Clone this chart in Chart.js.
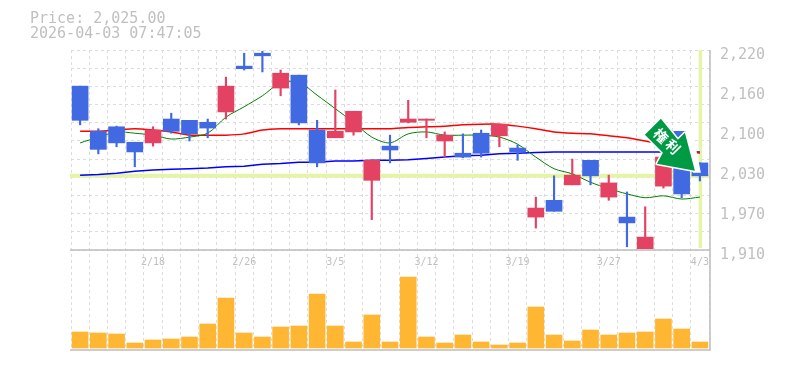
<!DOCTYPE html>
<html><head><meta charset="utf-8">
<style>html,body{margin:0;padding:0;background:#fff;overflow:hidden}#w{position:relative;width:785px;height:370px}
canvas{display:block}.t{position:absolute;left:30px;font:15px "DejaVu Sans Mono",monospace;color:#c0c0c0;line-height:15px;white-space:pre}</style>
<script src="https://cdn.jsdelivr.net/npm/chart.js@4/dist/chart.umd.min.js"></script>
</head><body><div id="w">
<div class="t" style="top:11px">Price: 2,025.00</div>
<div class="t" style="top:26px">2026-04-03 07:47:05</div>
<canvas id="c" width="785" height="370"></canvas></div>
<script>
const dates=['2/12','2/13','2/16','2/17','2/18','2/19','2/20','2/24','2/25','2/26','2/27','3/2','3/3','3/4','3/5','3/6','3/9','3/10','3/11','3/12','3/13','3/16','3/17','3/18','3/19','3/23','3/24','3/25','3/26','3/27','3/30','3/31','4/1','4/2','4/3'];
const opens=[2164,2094,2101,2077,2076,2113,2111,2108,2124,2195,2215,2161,2181,2096,2084,2093,2018,2071,2108,2111,2079,2060,2091,2087,2068,1961,1987,2011,2049,1992,1961,1912,2009,2094,2045];
const closes=[2111,2066,2076,2062,2096,2094,2090,2099,2164,2191,2211,2184,2107,2045,2094,2125,2049,2065,2113,2113,2088,2054,2060,2105,2062,1975,1970,2026,2025,2014,1952,1930,2054,1997,2025];
const highs=[2164,2098,2102,2077,2101,2122,2111,2113,2178,2215,2218,2189,2181,2111,2158,2125,2049,2088,2142,2113,2093,2090,2096,2105,2073,1992,2025,2051,2049,2026,2000,1977,2054,2094,2045];
const lows=[2104,2059,2070,2039,2071,2091,2079,2084,2113,2189,2186,2149,2104,2039,2084,2088,1957,2045,2107,2084,2054,2053,2054,2070,2049,1944,1970,2011,2011,1987,1915,1912,2006,1991,2017];
const volumes=[16,15,14,5,8,9,11,24,50,15,11,21,22,54,22,6,33,6,71,11,5,13,6,3,5,41,13,7,18,13,15,16,29,19,6];
const maShort=[2076,2085,2093,2091,2088,2082,2085,2091,2116,2132,2149,2169,2170,2150,2129,2108,2085,2076,2090,2093,2088,2088,2088,2085,2074,2054,2036,2028,2015,2005,1997,1991,1994,1989,1992];
const maMid=[2094,2094,2096,2098,2096,2093,2088,2088,2088,2090,2096,2098,2098,2098,2098,2098,2098,2098,2100,2101,2102,2104,2105,2105,2102,2098,2093,2091,2090,2087,2084,2079,2073,2066,2060];
const maLong=[2026,2027,2029,2032,2034,2035,2036,2037,2039,2040,2043,2044,2046,2046,2048,2048,2049,2049,2050,2052,2054,2056,2057,2059,2060,2061,2062,2062,2062,2062,2062,2062,2062,2062,2062];
const priceLabelTicks=[1910,1972,2034,2096,2158,2220];
const priceMin=1910,priceMax=2220,gridCount=11,lastPrice=2025;
const markText=['権','利'];

const BLUE='#4169e1',RED='#e34262',YEL='#e4f5a6',FRAME='#bdbdbd',GRID='#dcdcdc',TXT='#c0c0c0';
const candleColors=opens.map((o,i)=>closes[i]<o?BLUE:RED);
const overlay={id:'overlay',
 beforeDatasetsDraw(ch){const c=ch.ctx,a=ch.chartArea,s=ch.scales.price,x=ch.scales.x;
  const py=s.getPixelForValue(lastPrice),px=x.getPixelForValue(34);
  c.save();c.strokeStyle=YEL;c.lineWidth=4;
  c.beginPath();c.moveTo(a.left-1,py);c.lineTo(a.right+1,py);c.stroke();
  c.lineWidth=3.5;c.beginPath();c.moveTo(px+.5,a.top);c.lineTo(px+.5,s.bottom-2);c.stroke();c.restore();},
 afterDatasetsDraw(ch){const c=ch.ctx,a=ch.chartArea,s=ch.scales.price,x=ch.scales.x;
  c.save();c.strokeStyle=FRAME;c.lineWidth=1.5;
  c.beginPath();c.moveTo(a.left-1,s.bottom);c.lineTo(a.right+1,s.bottom);
  c.moveTo(a.left-1,a.bottom);c.lineTo(a.right+1,a.bottom);c.lineTo(a.right+1,a.top);c.stroke();
  const tx=x.getPixelForValue(34)-5,ty=s.getPixelForValue(lastPrice)-5;
  const poly=(pts)=>{c.beginPath();pts.forEach((p,i)=>i?c.lineTo(tx+p[0],ty+p[1]):c.moveTo(tx+p[0],ty+p[1]));c.closePath();};
  const shape=[[0,0],[-38,-7],[-32,-18],[-50,-36],[-34,-52],[-17,-31],[-10,-38]];
  poly([[-10,-43],[-3,-43],[6,2],[-2,2]]);c.fillStyle='#fff';c.fill();
  poly(shape);c.strokeStyle='#fff';c.lineWidth=3;c.lineJoin='round';c.stroke();
  c.fillStyle='#009944';c.fill();
  c.fillStyle='#fff';c.font='bold 14px "Noto Sans CJK JP"';c.textAlign='center';c.textBaseline='middle';
  [[-34,-35],[-22,-24]].forEach((p,i)=>{c.save();c.translate(tx+p[0],ty+p[1]);c.rotate(Math.PI/4);c.fillText(markText[i],0,0);c.restore();});
  c.restore();}
};
new Chart(document.getElementById('c'),{
 data:{labels:dates,datasets:[
  {type:'bar',label:'body',data:opens.map((o,i)=>[o,closes[i]]),backgroundColor:candleColors,barThickness:16,yAxisID:'price',order:1,grouped:false},
  {type:'bar',label:'wick',data:lows.map((l,i)=>[l,highs[i]]),backgroundColor:candleColors,barThickness:1.5,yAxisID:'price',order:2,grouped:false},
  {type:'line',label:'short',data:maShort,borderColor:'#008000',borderWidth:1,pointRadius:0,tension:.3,yAxisID:'price',order:3},
  {type:'line',label:'mid',data:maMid,borderColor:'#ff0000',borderWidth:1.5,pointRadius:0,tension:.2,yAxisID:'price',order:4},
  {type:'line',label:'long',data:maLong,borderColor:'#0000ff',borderWidth:1.5,pointRadius:0,yAxisID:'price',order:5},
  {type:'bar',label:'volume',data:volumes,backgroundColor:'#ffb733',barThickness:16,yAxisID:'vol',order:6,grouped:false}
 ]},
 plugins:[overlay],
 options:{responsive:false,animation:false,events:[],
  layout:{padding:{left:71,right:0,top:50,bottom:20}},
  plugins:{legend:{display:false},tooltip:{enabled:false},title:{display:false}},
  scales:{
   x:{type:'category',position:{price:priceMin},offset:true,
    grid:{offset:true,color:GRID,lineWidth:1,drawTicks:false},border:{display:false,dash:[3,3]},
    ticks:{autoSkip:false,maxRotation:0,minRotation:0,padding:6,color:TXT,font:{family:'"DejaVu Sans Mono"',size:10},
     callback(v,i){return (i+1)%5===0?dates[i]:'';}}},
   price:{type:'linear',position:'right',stack:'main',stackWeight:2,weight:1,min:priceMin,max:priceMax,
    afterBuildTicks(s){const t=[];for(let k=0;k<=gridCount;k++){t.push({value:priceMin+(priceMax-priceMin)*k/gridCount,isGrid:true,label:''});}
      priceLabelTicks.forEach(v=>t.push({value:v,isLabel:true}));t.sort((a,b)=>a.value-b.value);s.ticks=t;},
    afterFit(s){s.width=76;},
    grid:{drawTicks:false,lineWidth:1,color:c=>c.tick&&c.tick.isGrid?GRID:'rgba(0,0,0,0)'},border:{display:false,dash:[3,3]},
    ticks:{autoSkip:false,padding:11,align:'center',crossAlign:'near',labelOffset:5,color:TXT,font:{family:'"DejaVu Sans Mono"',size:15},
     callback(v,i,ts){if(!ts[i].isLabel)return '';const r=Math.round(v/10)*10;return r.toLocaleString('en-US');}}},
   vol:{type:'linear',position:'right',stack:'main',stackWeight:1,weight:2,min:-2,max:98,display:true,
    afterFit(s){s.width=76;},
    grid:{display:false},border:{display:false},ticks:{display:false}}
  }}
});
</script></body></html>
